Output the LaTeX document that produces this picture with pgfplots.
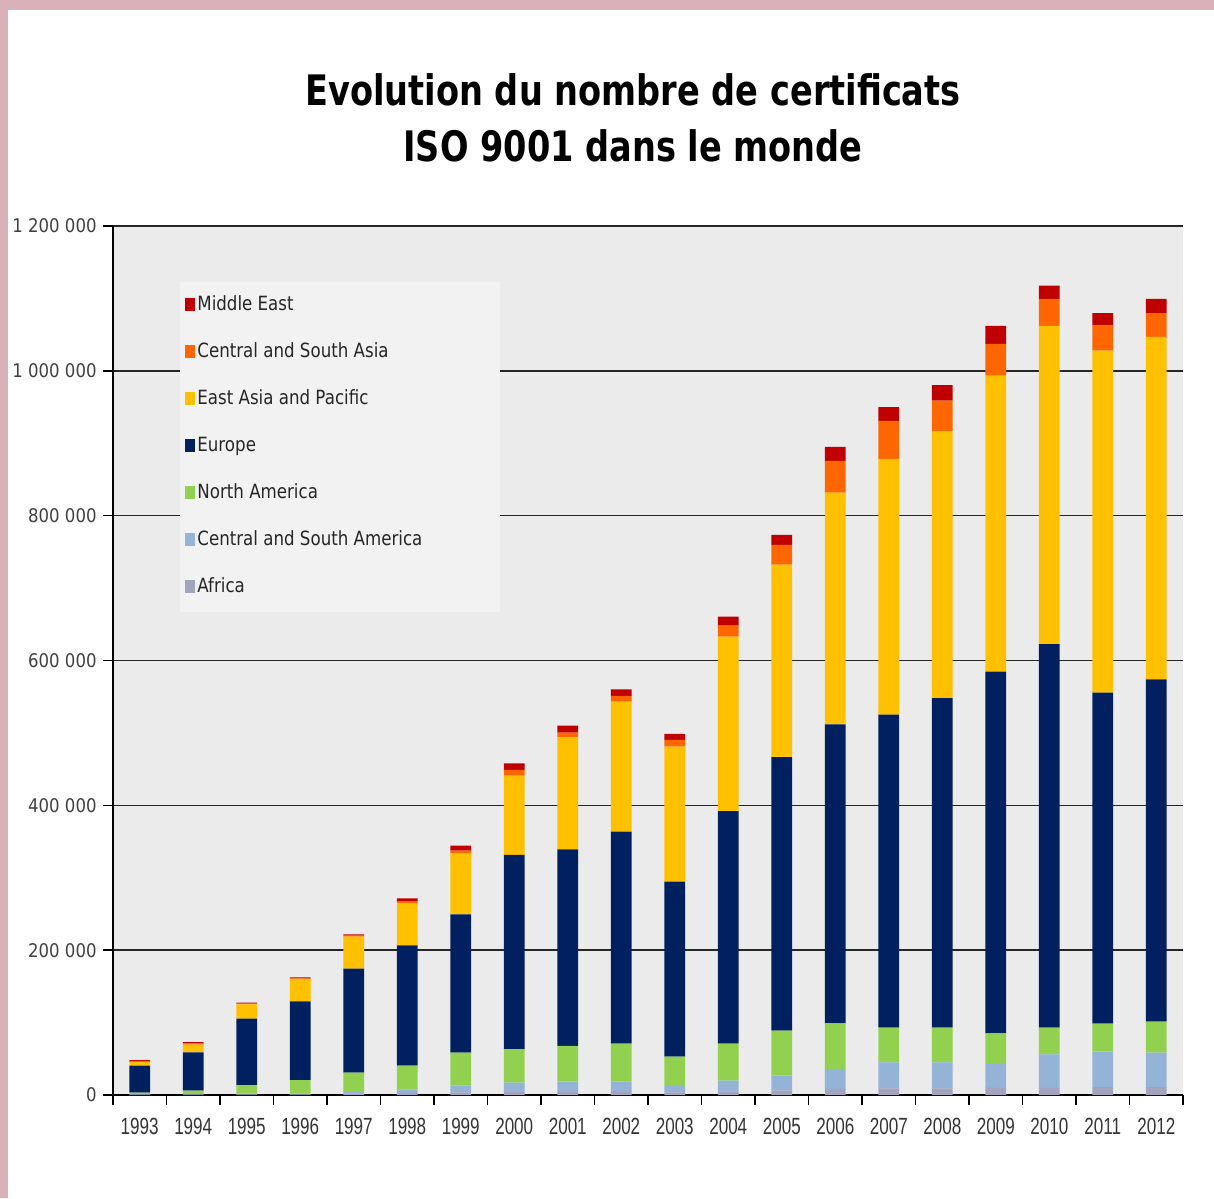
\documentclass[border=0pt]{standalone}
\usepackage{fontspec}
\setmainfont{Liberation Sans}
\newfontfamily\titlefont[FakeStretch=0.8]{DejaVu Sans}
\newfontfamily\yfont[FakeStretch=0.88]{DejaVu Sans}
\newfontfamily\legfont[FakeStretch=0.85]{DejaVu Sans}
\newfontfamily\xfont[FakeStretch=0.73]{Liberation Sans}
\usepackage{pgfplots}
\pgfplotsset{compat=1.18}
\usepackage{pgfplotstable}

\definecolor{cAf}{HTML}{A3A3BD}
\definecolor{cCSAm}{HTML}{95B3D7}
\definecolor{cNA}{HTML}{92D050}
\definecolor{cEu}{HTML}{002060}
\definecolor{cEAP}{HTML}{FFC000}
\definecolor{cCSAs}{HTML}{FF6600}
\definecolor{cME}{HTML}{C00000}
\definecolor{plotbg}{HTML}{EBEBEB}
\definecolor{legbg}{HTML}{F2F2F2}
\definecolor{pinkbg}{HTML}{D9B1B9}

\pgfplotstableread{
x Af CSAm NA Eu EAP CSAs ME
0 700 500 2000 37300 5000 1500 1300
1 700 800 4500 52900 10800 1700 1700
2 800 1200 11800 91600 19800 1000 1300
3 900 1300 18500 108700 30400 1200 1500
4 1800 2500 26500 143700 44200 1300 1900
5 2500 5000 33000 166200 58000 3000 3900
6 3500 9500 45500 191000 84300 3700 6900
7 4000 13000 46500 268000 109600 7800 9200
8 4500 14000 49500 271300 154700 6400 9700
9 4500 14000 52500 292700 179600 7800 9200
10 3500 10300 39100 241800 186500 9200 8200
11 5000 15000 51000 321000 240900 15300 12500
12 6000 21000 62000 377500 266000 27300 13600
13 8000 28000 63000 412800 319900 43900 19400
14 9000 36000 48000 432400 353000 52400 19200
15 9000 36000 48000 455000 368700 42300 21200
16 10000 34000 41000 499700 408800 43800 24900
17 10000 46000 37000 529700 439500 37200 18200
18 11000 49000 38500 457000 472300 35000 16800
19 11000 47500 43000 472300 473000 32900 19700
}\data

\begin{document}
\begin{tikzpicture}
\fill[white] (0pt,0pt) rectangle (607pt,-599pt);
\fill[pinkbg] (0pt,0pt) rectangle (607pt,-5pt);
\fill[pinkbg] (0pt,0pt) rectangle (4pt,-599pt);
\useasboundingbox (0pt,0pt) rectangle (607pt,-599pt);
\node[font=\titlefont\bfseries\fontsize{21}{25}\selectfont, anchor=base, inner sep=0pt] at (316.5pt,-53pt) {Evolution du nombre de certificats};
\node[font=\titlefont\bfseries\fontsize{21}{25}\selectfont, anchor=base, inner sep=0pt] at (316.5pt,-81pt) {ISO 9001 dans le monde};
\begin{axis}[
  at={(56.5pt,-547.5pt)}, anchor=south west,
  width=535pt, height=434.5pt, scale only axis,
  xmin=-0.5, xmax=19.5, ymin=0, ymax=1200000,
  scaled y ticks=false,
  ybar stacked, bar width=10.3pt,
  axis background/.style={fill=plotbg},
  axis x line*=bottom, axis y line*=left,
  axis line style={black, line width=0.8pt},
  ymajorgrids, grid style={black!85, line width=0.8pt},
  tick align=outside, major tick length=5pt,
  tick style={black, line width=0.8pt},
  ytick={0,200000,400000,600000,800000,1000000,1200000},
  yticklabels={0,200 000,400 000,600 000,800 000,1 000 000,1 200 000},
  yticklabel style={font=\yfont\fontsize{9.4}{10}\selectfont, text=black!75, anchor=east, inner sep=0pt, xshift=-3pt},
  xtick={-0.5,0.5,1.5,2.5,3.5,4.5,5.5,6.5,7.5,8.5,9.5,10.5,11.5,12.5,13.5,14.5,15.5,16.5,17.5,18.5,19.5},
  xticklabels={},
  extra x ticks={0,1,2,3,4,5,6,7,8,9,10,11,12,13,14,15,16,17,18,19},
  extra x tick labels={1993,1994,1995,1996,1997,1998,1999,2000,2001,2002,2003,2004,2005,2006,2007,2008,2009,2010,2011,2012},
  extra x tick style={major tick length=0pt, grid=none, xticklabel style={font=\xfont\fontsize{11.7}{12}\selectfont, text=black!80, anchor=north, inner sep=0pt, yshift=-11.5pt}},
  reverse legend,
  legend style={at={(0.0626,0.9355)}, anchor=north west, fill=none, draw=none,
    inner xsep=2.5pt, inner ysep=6pt, font=\legfont\fontsize{9.8}{11}\selectfont,
    row sep=12.5pt, column sep=0pt,
    nodes={inner sep=1pt, text height=7pt, text depth=2pt, text=black!85}},
  legend cell align=left,
  legend image code/.code={\fill[#1,draw=none] (0pt,-3pt) rectangle (5pt,3.5pt);},
]
\fill[legbg] (rel axis cs:0.0626,0.9355) rectangle (rel axis cs:0.3617,0.5558);
\addplot[fill=cAf, draw=none] table[x=x, y=Af] {\data};
\addplot[fill=cCSAm, draw=none] table[x=x, y=CSAm] {\data};
\addplot[fill=cNA, draw=none] table[x=x, y=NA] {\data};
\addplot[fill=cEu, draw=none] table[x=x, y=Eu] {\data};
\addplot[fill=cEAP, draw=none] table[x=x, y=EAP] {\data};
\addplot[fill=cCSAs, draw=none] table[x=x, y=CSAs] {\data};
\addplot[fill=cME, draw=none] table[x=x, y=ME] {\data};
\legend{Africa, Central and South America, North America, Europe, East Asia and Pacific, Central and South Asia, Middle East}
\end{axis}
\end{tikzpicture}
\end{document}
